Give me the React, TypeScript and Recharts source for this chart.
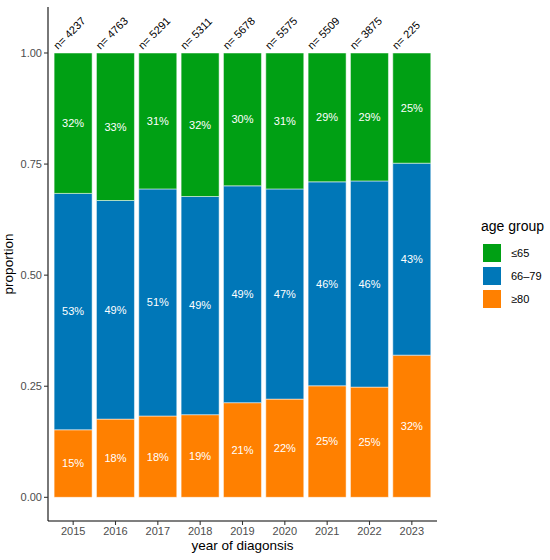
import React from 'react';
import { BarChart, Bar, XAxis, YAxis, LabelList, Legend, Label, Text } from 'recharts';

const years = ['2015', '2016', '2017', '2018', '2019', '2020', '2021', '2022', '2023'];
const counts = [4237, 4763, 5291, 5311, 5678, 5575, 5509, 3875, 225];
const over80 = [0.152, 0.176, 0.183, 0.186, 0.213, 0.221, 0.251, 0.248, 0.32];
const mid6679 = [0.532, 0.492, 0.511, 0.491, 0.488, 0.473, 0.459, 0.464, 0.432];
const under65 = [0.316, 0.332, 0.306, 0.323, 0.299, 0.306, 0.29, 0.288, 0.248];
const yTicks = [0, 0.25, 0.5, 0.75, 1];

const groups = [
  { key: 'g80', name: '≥80', color: '#FF8000' },
  { key: 'g66', name: '66–79', color: '#0077B8' },
  { key: 'g65', name: '≤65', color: '#00A014' },
];

const data = years.map((y, i) => ({
  year: y,
  n: counts[i],
  g80: over80[i],
  g66: mid6679[i],
  g65: under65[i],
}));

const FONT = '"Liberation Sans", Arial, Helvetica, sans-serif';

const pct = (v: any) => `${Math.round(Number(v) * 100)}%`;

const NLabel = (props: any) => {
  const { x, y, width, value } = props;
  const tx = Number(x) + Number(width) / 2 - 15;
  const ty = Number(y) - 3;
  return (
    <Text x={tx} y={ty} angle={-45} fontSize={11} fill="#000" textAnchor="start" verticalAnchor="end">
      {`n= ${value}`}
    </Text>
  );
};

const LegendBox = () => (
  <div style={{ fontFamily: FONT, color: '#000' }}>
    <div style={{ fontSize: 14, lineHeight: '16px', height: 16, marginBottom: 7, whiteSpace: 'nowrap' }}>age group</div>
    {[...groups].reverse().map((g) => (
      <div key={g.key} style={{ display: 'flex', alignItems: 'center', height: 23 }}>
        <div style={{ width: 20, height: 20, background: g.color, marginLeft: 1, boxSizing: 'border-box', border: '0.5px solid #fff' }} />
        <div style={{ fontSize: 11, marginLeft: 9, lineHeight: '20px' }}>{g.name}</div>
      </div>
    ))}
  </div>
);

export default function App() {
  return (
    <div style={{ position: 'absolute', left: 0, top: 0, width: 550, height: 560, fontFamily: FONT, background: '#fff' }}>
      <BarChart
        width={550}
        height={560}
        data={data}
        margin={{ top: 7, right: 44, bottom: 0, left: 0 }}
        barCategoryGap="5%"
      >
        <XAxis
          dataKey="year"
          height={39}
          padding={{ left: 4, right: 4 }}
          tickSize={4}
          tickMargin={2}
          axisLine={{ stroke: '#000', strokeWidth: 1.07 }}
          tickLine={{ stroke: '#333', strokeWidth: 1.07 }}
          tick={{ fontSize: 11, fill: '#4D4D4D' }}
        >
          <Label
            content={(p: any) => {
              const vb = p.viewBox || {};
              return (
                <text x={242.5} y={Number(vb.y) + 29} fontSize={13.5} textAnchor="middle" fill="#000">
                  year of diagonsis
                </text>
              );
            }}
          />
        </XAxis>
        <YAxis
          width={48}
          type="number"
          domain={[-0.0533, 1.1035]}
          allowDataOverflow
          ticks={yTicks}
          tickFormatter={(v: number) => v.toFixed(2)}
          tickSize={4}
          tickMargin={2}
          axisLine={{ stroke: '#000', strokeWidth: 1.07 }}
          tickLine={{ stroke: '#333', strokeWidth: 1.07 }}
          tick={{ fontSize: 11, fill: '#4D4D4D' }}
        >
          <Label
            content={() => (
              <text x={12.5} y={264} fontSize={13.5} textAnchor="middle" fill="#000" transform="rotate(-90 12.5 264)">
                proportion
              </text>
            )}
          />
        </YAxis>
        <Legend
          layout="horizontal"
          verticalAlign="middle"
          align="right"
          content={() => <LegendBox />}
          wrapperStyle={{ position: 'absolute', left: 481, top: 218, width: 69, height: 90 }}
        />
        {groups.map((g) => (
          <Bar
            key={g.key}
            dataKey={g.key}
            name={g.name}
            stackId="a"
            fill={g.color}
            stroke="#fff"
            strokeWidth={0.5}
            isAnimationActive={false}
          >
            <LabelList dataKey={g.key} position="center" formatter={pct} fill="#fff" fontSize={11} />
            {g.key === 'g65' ? <LabelList dataKey="n" content={NLabel} /> : null}
          </Bar>
        ))}
      </BarChart>
    </div>
  );
}
